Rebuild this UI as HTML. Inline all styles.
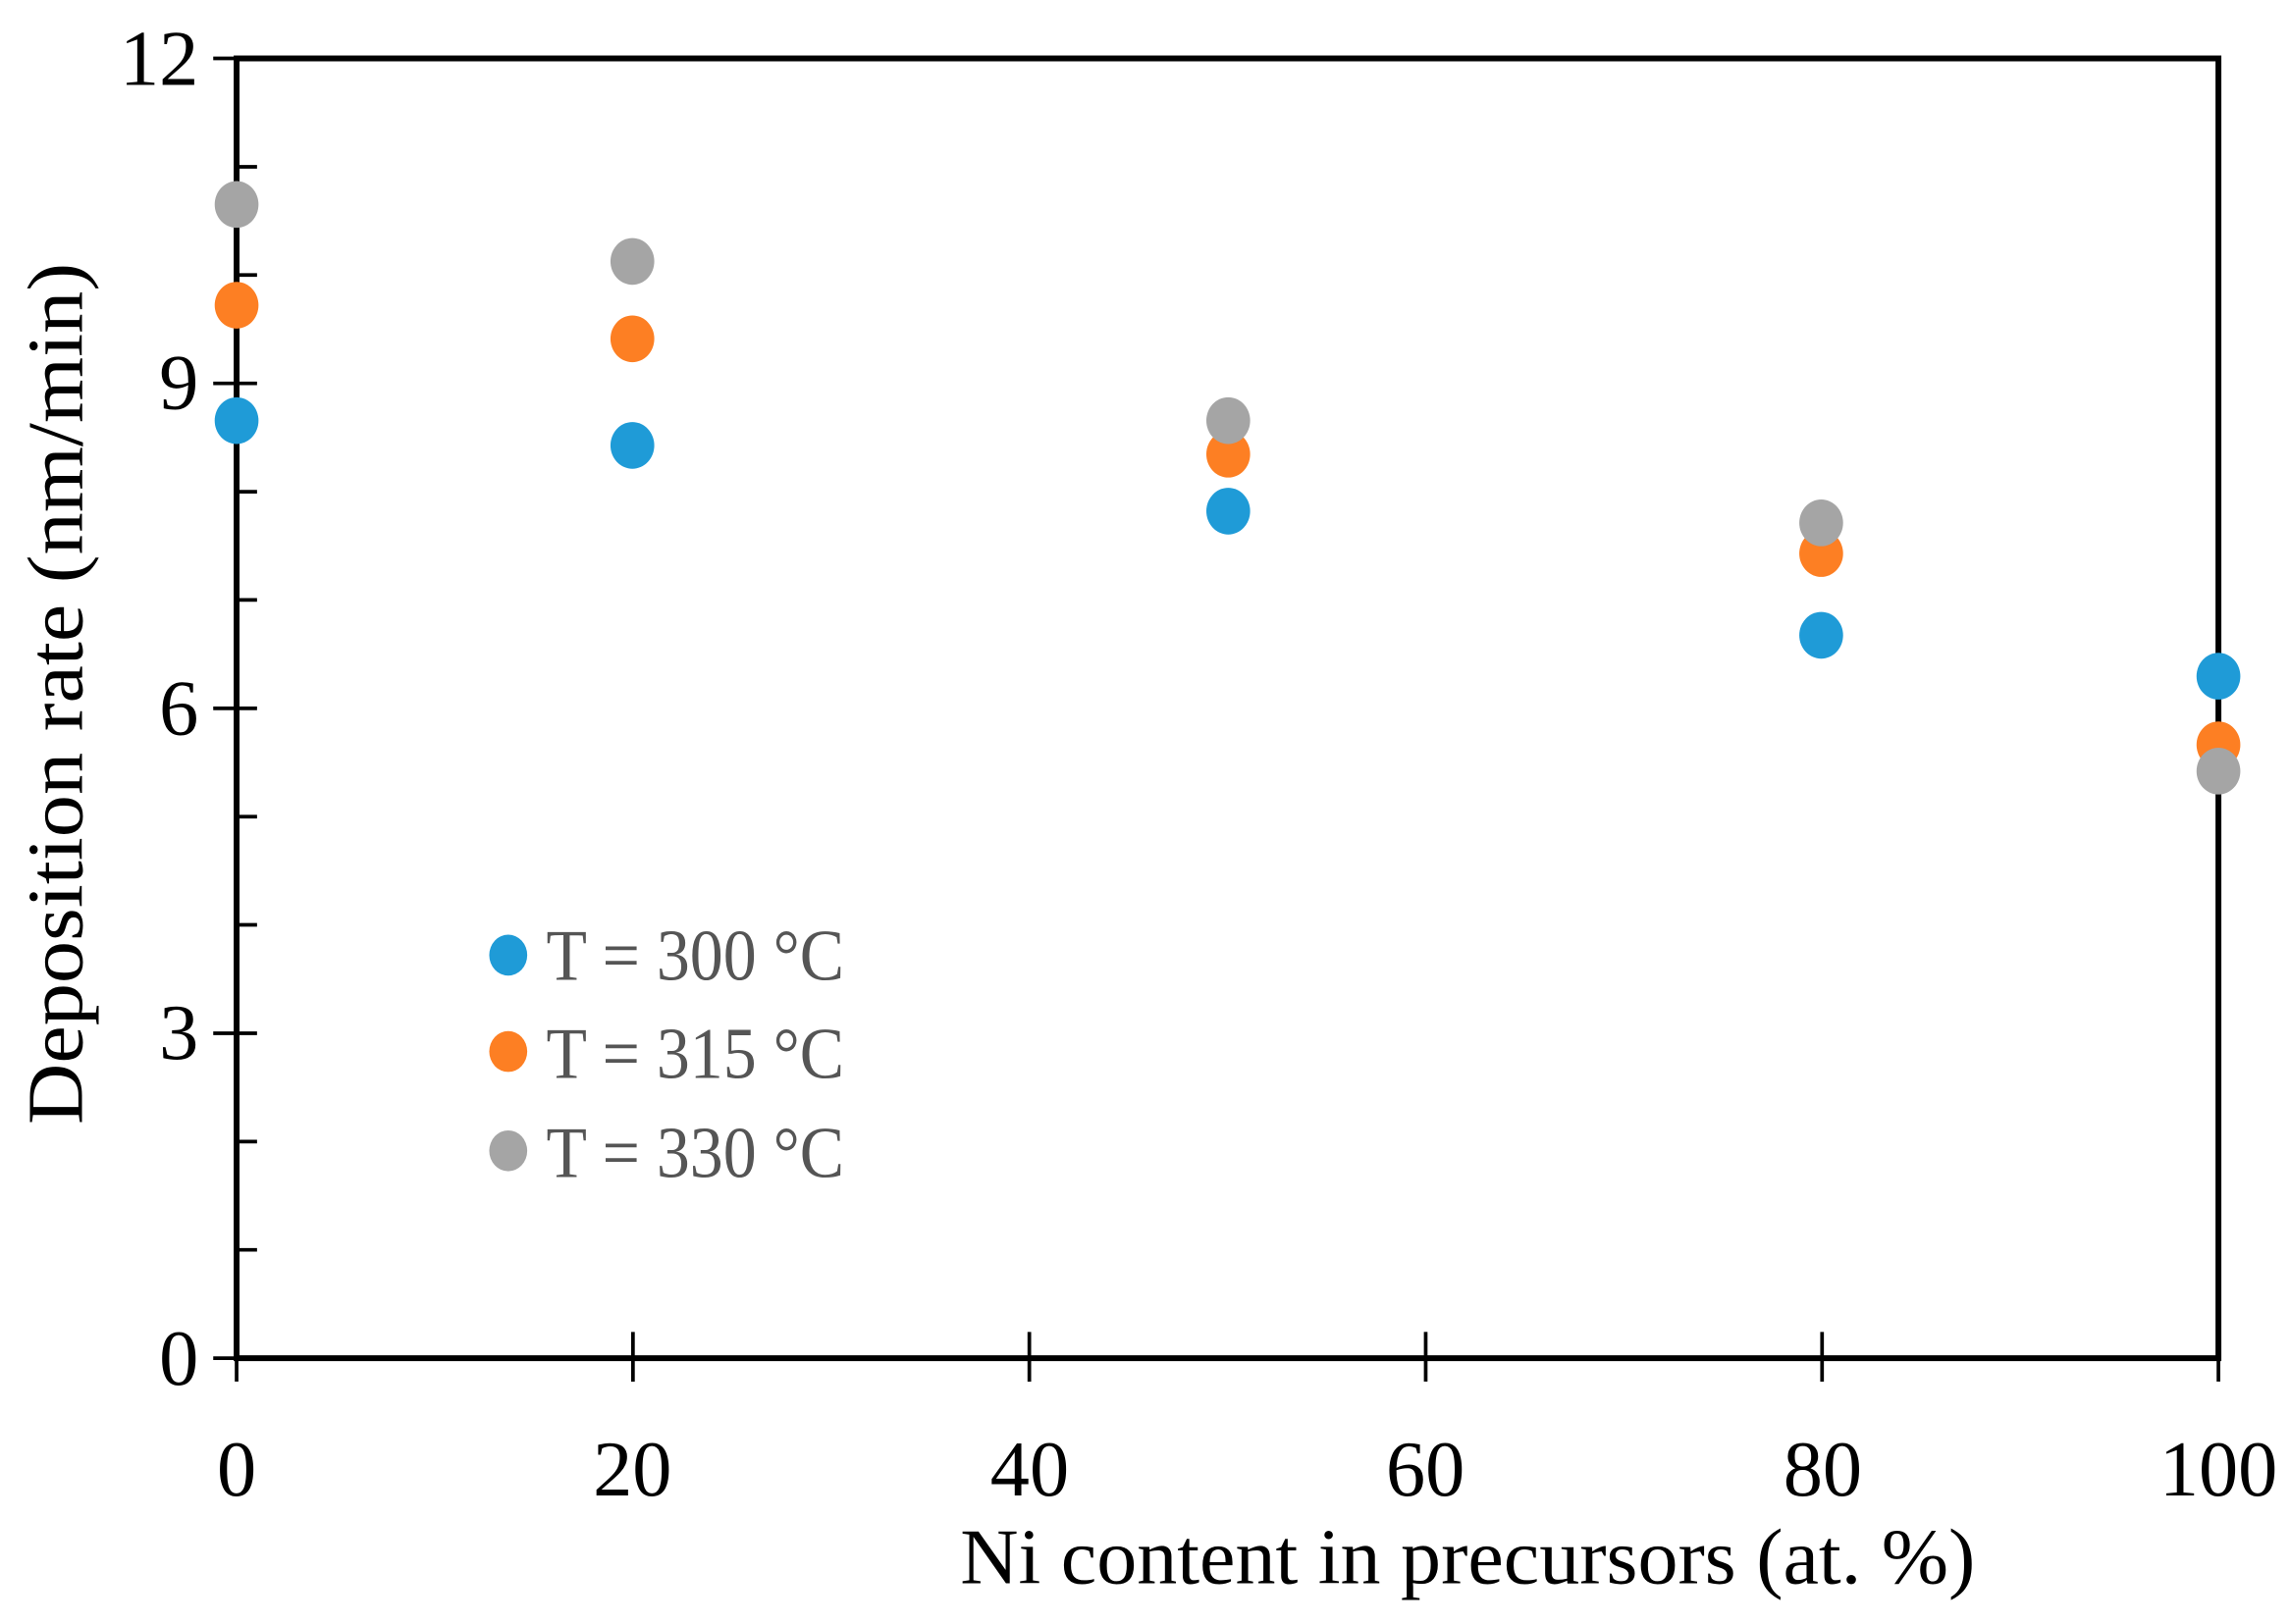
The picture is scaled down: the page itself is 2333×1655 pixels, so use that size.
<!DOCTYPE html>
<html><head><style>
html,body{margin:0;padding:0;background:#fff;}
svg{display:block;}
text{font-family:"Liberation Serif",serif;}
</style></head><body>
<svg width="2333" height="1655" viewBox="0 0 1568 1112" preserveAspectRatio="none" xmlns="http://www.w3.org/2000/svg">
<rect width="1568" height="1112" fill="#fff"/>
<rect x="162" y="40" width="1357" height="890" fill="none" stroke="#000" stroke-width="4"/>
<g stroke="#000" stroke-width="2.5">
<line x1="146" y1="40" x2="162" y2="40"/>
<line x1="146" y1="262.5" x2="176" y2="262.5"/>
<line x1="146" y1="485" x2="176" y2="485"/>
<line x1="146" y1="707.5" x2="176" y2="707.5"/>
<line x1="146" y1="930" x2="162" y2="930"/>
<line x1="162" y1="114.2" x2="176" y2="114.2"/>
<line x1="162" y1="188.3" x2="176" y2="188.3"/>
<line x1="162" y1="336.7" x2="176" y2="336.7"/>
<line x1="162" y1="410.8" x2="176" y2="410.8"/>
<line x1="162" y1="559.2" x2="176" y2="559.2"/>
<line x1="162" y1="633.3" x2="176" y2="633.3"/>
<line x1="162" y1="781.7" x2="176" y2="781.7"/>
<line x1="162" y1="855.8" x2="176" y2="855.8"/>
<line x1="162" y1="930" x2="162" y2="946"/>
<line x1="433.4" y1="912" x2="433.4" y2="946"/>
<line x1="704.8" y1="912" x2="704.8" y2="946"/>
<line x1="976.2" y1="912" x2="976.2" y2="946"/>
<line x1="1247.6" y1="912" x2="1247.6" y2="946"/>
<line x1="1519" y1="930" x2="1519" y2="946"/>
</g>
<g font-size="54" fill="#000" text-anchor="end">
<text x="136" y="58">12</text>
<text x="136" y="280">9</text>
<text x="136" y="503">6</text>
<text x="136" y="725">3</text>
<text x="136" y="948">0</text>
</g>
<g font-size="54" fill="#000" text-anchor="middle">
<text x="162" y="1024">0</text>
<text x="433" y="1024">20</text>
<text x="705" y="1024">40</text>
<text x="976" y="1024">60</text>
<text x="1248" y="1024">80</text>
<text x="1519" y="1024">100</text>
<text x="1005" y="1084" textLength="695" lengthAdjust="spacingAndGlyphs">Ni content in precursors  (at. %)</text>
<text transform="translate(56,475) rotate(-90)" textLength="590" lengthAdjust="spacingAndGlyphs">Deposition rate (nm/min)</text>
</g>
<g>
<ellipse cx="162" cy="140" rx="15" ry="16" fill="#a5a5a5"/>
<ellipse cx="162" cy="209" rx="15" ry="16" fill="#fd7f23"/>
<ellipse cx="162" cy="288" rx="15" ry="16" fill="#1f9bd7"/>
<ellipse cx="433" cy="179" rx="15" ry="16" fill="#a5a5a5"/>
<ellipse cx="433" cy="232" rx="15" ry="16" fill="#fd7f23"/>
<ellipse cx="433" cy="305" rx="15" ry="16" fill="#1f9bd7"/>
<ellipse cx="841" cy="350" rx="15" ry="16" fill="#1f9bd7"/>
<ellipse cx="841" cy="311" rx="15" ry="16" fill="#fd7f23"/>
<ellipse cx="841" cy="288" rx="15" ry="16" fill="#a5a5a5"/>
<ellipse cx="1247" cy="435" rx="15" ry="16" fill="#1f9bd7"/>
<ellipse cx="1247" cy="379" rx="15" ry="16" fill="#fd7f23"/>
<ellipse cx="1247" cy="358" rx="15" ry="16" fill="#a5a5a5"/>
<ellipse cx="1519" cy="463" rx="15" ry="16" fill="#1f9bd7"/>
<ellipse cx="1519" cy="510" rx="15" ry="16" fill="#fd7f23"/>
<ellipse cx="1519" cy="528" rx="15" ry="16" fill="#a5a5a5"/>
</g>
<ellipse cx="348" cy="654" rx="13" ry="14" fill="#1f9bd7"/>
<ellipse cx="348" cy="720" rx="13" ry="14" fill="#fd7f23"/>
<ellipse cx="348" cy="788" rx="13" ry="14" fill="#a5a5a5"/>
<g font-size="50" fill="#555">
<text x="374" y="671" textLength="204" lengthAdjust="spacingAndGlyphs">T = 300 °C</text>
<text x="374" y="738" textLength="204" lengthAdjust="spacingAndGlyphs">T = 315 °C</text>
<text x="374" y="806" textLength="204" lengthAdjust="spacingAndGlyphs">T = 330 °C</text>
</g>
</svg>
</body></html>
